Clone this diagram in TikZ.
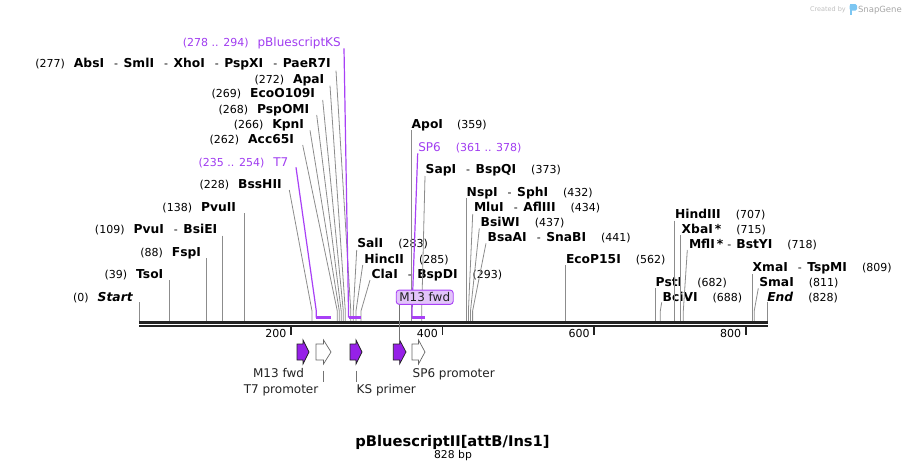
\documentclass[tikz,border=0pt]{standalone}
\usepackage{fontspec}
\setmainfont{DejaVu Sans}
\usetikzlibrary{calc}
\definecolor{cutgray}{HTML}{8C8C8C}
\definecolor{prim}{RGB}{168,64,246}
\definecolor{primtext}{RGB}{160,60,240}
\definecolor{primfill}{RGB}{150,32,232}
\definecolor{boxfill}{RGB}{226,196,250}
\definecolor{bb}{HTML}{222222}
\definecolor{logoblue}{HTML}{7CC6F2}
\newcommand\nm[1]{{\fontsize{12.3}{14}\bfseries\selectfont #1}}
\newcommand\nr[1]{{\fontsize{11}{13}\selectfont #1}}
\newcommand\np[1]{{\fontsize{12}{14}\selectfont #1}}
\newcommand\sepx{\hspace{10pt}\nr{-}\hspace{5.5pt}}
\newcommand\gapL{\hspace{9pt}}
\newcommand\gapR{\hspace{15pt}}
\begin{document}
\begin{tikzpicture}[x=1pt,y=-1pt,
  lbl/.style={inner sep=0pt,outer sep=0pt},
  lblL/.style={lbl,anchor=base east},
  lblR/.style={lbl,anchor=base west},
  cut/.style={draw=cutgray,line width=0.8pt},
  pl/.style={draw=prim,line width=1.2pt},
  pbar/.style={draw=prim,line width=2.4pt},
  bbline/.style={draw=bb,line width=2.6pt},
  tick/.style={draw=bb,line width=1.6pt},
  farf/.style={fill=primfill,draw=bb,line width=0.7pt,line join=miter},
  farw/.style={fill=white,draw=black!60,line width=0.7pt,line join=miter},
  mbox/.style={draw=prim,fill=boxfill,line width=0.9pt,rounded corners=3pt,inner sep=0pt,minimum width=57pt,minimum height=14.3pt,font=\fontsize{12}{14}\selectfont,text=bb},
  ftxt/.style={lbl,font=\fontsize{12}{14}\selectfont,text=bb}
]
\useasboundingbox (0,0) rectangle (907,471);

% ---------- left labels ----------
\node[lblL] (nKS) at (340.7,46.8) {\color{primtext}\nr{(278 .. 294)}\gapL\np{pBluescriptKS}};
\node[lblL] (nAbs) at (330.7,67.8) {\nr{(277)}\gapL\nm{AbsI}\sepx\nm{SmlI}\sepx\nm{XhoI}\sepx\nm{PspXI}\sepx\nm{PaeR7I}};
\node[lblL] (nApa) at (324.3,83.5) {\nr{(272)}\gapL\nm{ApaI}};
\node[lblL] (nEco) at (315,97.8) {\nr{(269)}\gapL\nm{EcoO109I}};
\node[lblL] (nPspO) at (309.3,113.5) {\nr{(268)}\gapL\nm{PspOMI}};
\node[lblL] (nKpn) at (304,128.8) {\nr{(266)}\gapL\nm{KpnI}};
\node[lblL] (nAcc) at (294,143.5) {\nr{(262)}\gapL\nm{Acc65I}};
\node[lblL] (nT7) at (288.3,166.8) {\color{primtext}\nr{(235 .. 254)}\gapL\np{T7}};
\node[lblL] (nBss) at (281.7,188.5) {\nr{(228)}\gapL\nm{BssHII}};
\node[lblL] (nPvuII) at (236,211.2) {\nr{(138)}\gapL\nm{PvuII}};
\node[lblL] (nPvuI) at (217.3,233.5) {\nr{(109)}\gapL\nm{PvuI}\sepx\nm{BsiEI}};
\node[lblL] (nFsp) at (201,256.2) {\nr{(88)}\gapL\nm{FspI}};
\node[lblL] (nTso) at (163.3,278.5) {\nr{(39)}\gapL\nm{TsoI}};
\node[lblL] (nStart) at (132.7,301.2) {\nr{(0)}\gapL\nm{\itshape Start}};

% ---------- right labels ----------
\node[lblR] (nSal) at (357.3,247.8) {\nm{SalI}\gapR\nr{(283)}};
\node[lblR] (nHinc) at (364.3,263.5) {\nm{HincII}\gapR\nr{(285)}};
\node[lblR] (nCla) at (371.7,278.5) {\nm{ClaI}\sepx\nm{BspDI}\gapR\nr{(293)}};
\node[lblR] (nApo) at (411.7,128.5) {\nm{ApoI}\hspace{14pt}\nr{(359)}};
\node[lblR] (nSP6) at (418.3,151.2) {\color{primtext}\np{SP6}\gapR\nr{(361 .. 378)}};
\node[lblR] (nSap) at (425.7,173.8) {\nm{SapI}\sepx\nm{BspQI}\gapR\nr{(373)}};
\node[lblR] (nNsp) at (466.7,196.2) {\nm{NspI}\sepx\nm{SphI}\gapR\nr{(432)}};
\node[lblR] (nMlu) at (474,211.2) {\nm{MluI}\sepx\nm{AflIII}\gapR\nr{(434)}};
\node[lblR] (nBsiW) at (480.7,226.2) {\nm{BsiWI}\gapR\nr{(437)}};
\node[lblR] (nBsaA) at (487.7,241.2) {\nm{BsaAI}\sepx\nm{SnaBI}\gapR\nr{(441)}};
\node[lblR] (nEcoP) at (566,263.5) {\nm{EcoP15I}\gapR\nr{(562)}};
\node[lblR] (nHind) at (675,218.5) {\nm{HindIII}\gapR\nr{(707)}};
\node[lblR] (nXba) at (681.7,233.5) {\nm{XbaI\,*}\gapR\nr{(715)}};
\node[lblR] (nMfl) at (689,248.5) {\nm{MflI\,*}\hspace{4pt}\nr{-}\hspace{5pt}\nm{BstYI}\gapR\nr{(718)}};
\node[lblR] (nPst) at (655.7,286.2) {\nm{PstI}\gapR\nr{(682)}};
\node[lblR] (nBci) at (662.7,301.2) {\nm{BciVI}\gapR\nr{(688)}};
\node[lblR] (nXma) at (752.7,271.2) {\nm{XmaI}\sepx\nm{TspMI}\gapR\nr{(809)}};
\node[lblR] (nSma) at (759.3,286.2) {\nm{SmaI}\gapR\nr{(811)}};
\node[lblR] (nEnd) at (767.3,301.2) {\nm{\itshape End}\gapR\nr{(828)}};

% ---------- cut-site connectors ----------
\draw[cut] ($(nAbs.base east)+(5.3,2.9)$) -- (350.8,311) -- (350.8,321);
\draw[cut] ($(nApa.base east)+(5.7,2.2)$) -- (345.3,311) -- (345.3,321);
\draw[cut] ($(nEco.base east)+(7.7,2.2)$) -- (343.3,311) -- (343.3,321);
\draw[cut] ($(nPspO.base east)+(7.4,1.5)$) -- (341.2,311) -- (341.2,321);
\draw[cut] ($(nKpn.base east)+(6,1.5)$) -- (339.3,311) -- (339.3,321);
\draw[cut] ($(nAcc.base east)+(8.7,1.5)$) -- (337.3,311) -- (337.3,321);
\draw[cut] ($(nBss.base east)+(7.6,1.5)$) -- (312,311) -- (312,321);
\draw[cut] ($(nPvuII.base east)+(8.3,2)$) -- (244.3,321);
\draw[cut] ($(nPvuI.base east)+(5,2)$) -- (222.3,321);
\draw[cut] ($(nFsp.base east)+(5.3,2)$) -- (206.3,321);
\draw[cut] ($(nTso.base east)+(6,1.5)$) -- (169.3,321);
\draw[cut] ($(nStart.base east)+(6.6,1.1)$) -- (139.3,321);

\draw[cut] ($(nSal.base west)+(-0.6,2.2)$) -- (353.3,311) -- (353.3,321);
\draw[cut] ($(nHinc.base west)+(-1.6,1.5)$) -- (356,311) -- (356,321);
\draw[cut] ($(nCla.base west)+(-1.7,1.5)$) -- (361,311) -- (361,321);
\draw[cut] ($(nApo.base west)+(-0.3,1.5)$) -- (411.4,321);
\draw[cut] ($(nSap.base west)+(-0.7,2.2)$) -- (421.7,311) -- (421.7,321);
\draw[cut] ($(nNsp.base west)+(0,2)$) -- (466.7,321);
\draw[cut] ($(nMlu.base west)+(-1.3,2.8)$) -- (468.4,311) -- (468.4,321);
\draw[cut] ($(nBsiW.base west)+(-1.4,2.1)$) -- (470.5,311) -- (470.5,321);
\draw[cut] ($(nBsaA.base west)+(-1.7,2.1)$) -- (472.6,311) -- (472.6,321);
\draw[cut] ($(nEcoP.base west)+(-0.3,1.5)$) -- (565.7,321);
\draw[cut] ($(nHind.base west)+(-0.7,2.2)$) -- (674.3,321);
\draw[cut] ($(nXba.base west)+(-1,1.5)$) -- (680.7,321);
\draw[cut] ($(nMfl.base west)+(-1.7,1.5)$) -- (683.3,311) -- (683.3,321);
\draw[cut] ($(nPst.base west)+(0,1.8)$) -- (655.7,321);
\draw[cut] ($(nBci.base west)+(-1,1.1)$) -- (660.3,311) -- (660.3,321);
\draw[cut] ($(nXma.base west)+(0,2.8)$) -- (752.7,321);
\draw[cut] ($(nSma.base west)+(-1,2.1)$) -- (754.2,311) -- (754.2,321);
\draw[cut] ($(nEnd.base west)+(0,1.1)$) -- (767.3,321);

% ---------- primer binding sites ----------
\draw[pl] ($(nKS.base east)+(3.3,1.5)$) -- (348.5,311) -- (348.5,317.5);
\draw[pbar] (348.5,317.5) -- (361.2,317.5);
\draw[pl] ($(nT7.base east)+(7.7,0.5)$) -- (316.3,311) -- (316.3,317.5);
\draw[pbar] (316.3,317.5) -- (330.8,317.5);
\draw[pl] ($(nSP6.base west)+(-0.6,2.1)$) -- (412,311) -- (412,317.5);
\draw[pbar] (412,317.5) -- (425,317.5);

% ---------- backbone and ruler ----------
\draw[bbline] (139,322.2) -- (767.5,322.2);
\draw[bbline] (139,326) -- (767.5,326);
\foreach \t/\xx in {200/290.8,400/442.4,600/594,800/745.7}{
  \draw[tick] (\xx,327) -- (\xx,334.5);
  \node[lbl,anchor=base east,font=\fontsize{11}{13}\selectfont] (tk\t) at (\xx-4.5,337.8) {\t};
}

% ---------- features ----------
\newcommand\farrow[3]{\path[#3] (#1,344) -- ({(#1+#2)/2},344) -- ({(#1+#2)/2},340) -- (#2,352) -- ({(#1+#2)/2},364) -- ({(#1+#2)/2},360) -- (#1,360) -- cycle;}
\farrow{297}{309}{farf}
\farrow{316}{331}{farw}
\farrow{350}{362}{farf}
\farrow{393.3}{406}{farf}
\farrow{412}{425}{farw}

\node[mbox] (m13box) at (424.7,297.2) {M13 fwd};
\coordinate (m13arrow) at (399.6,340.5);
\draw[draw=black!55,line width=0.8pt] (m13box.south west -| m13arrow) -- (m13arrow);

\node[ftxt,anchor=base east] (fM13) at (304,377.7) {M13 fwd};
\node[ftxt,anchor=base east] (fT7) at (318.3,393.7) {T7 promoter};
\node[ftxt,anchor=base west] (fKS) at (356.7,393.7) {KS primer};
\node[ftxt,anchor=base west] (fSP6) at (412.7,377.7) {SP6 promoter};
\coordinate (aT7) at (323.3,370.5);
\coordinate (aKS) at (356.5,370.5);
\draw[draw=black!55,line width=0.8pt] (aT7) -- ++(0,11.2);
\draw[draw=black!55,line width=0.8pt] (aKS) -- ++(0,11.2);

% ---------- title ----------
\node[lbl,anchor=base] (title) at (452.5,446) {\fontsize{14.7}{17}\bfseries\selectfont pBluescriptII[attB/Ins1]};
\node[lbl,anchor=base] (len) at (453,458.5) {\fontsize{10.8}{13}\selectfont 828 bp};

% ---------- watermark ----------
\node[lbl,anchor=base west,text=black!25,font=\fontsize{6.5}{8}\selectfont] (cby) at (810,11.5) {Created by};
\fill[logoblue] (849.6,4.2) rectangle (852.2,15);
\fill[logoblue,rounded corners=1.5pt] (849.6,4.2) rectangle (857,10.5);
\node[lbl,anchor=base west,text=black!35,font=\fontsize{8.5}{10}\selectfont] (sg) at (858,12.3) {SnapGene};
\end{tikzpicture}
\end{document}
